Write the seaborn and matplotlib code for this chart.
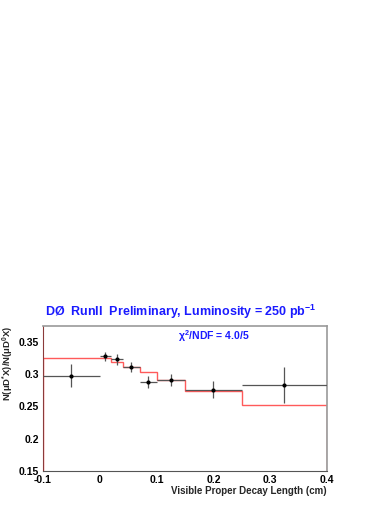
import numpy as np
import matplotlib
matplotlib.use('Agg')
import matplotlib.pyplot as plt
import seaborn as sns
from matplotlib.ticker import MultipleLocator, FuncFormatter

# bin edges (cm) and measured ratio per bin
bin_edges = [-0.1, 0.0, 0.02, 0.04, 0.07, 0.1, 0.15, 0.25, 0.4]
ratio = [0.298, 0.328, 0.323, 0.311, 0.288, 0.291, 0.276, 0.284]
ratio_err = [0.018, 0.007, 0.008, 0.008, 0.009, 0.009, 0.013, 0.028]
# fitted expectation per bin
fit = [0.326, 0.326, 0.319, 0.311, 0.303, 0.291, 0.274, 0.252]

edges = np.array(bin_edges)
centers = (edges[:-1] + edges[1:]) / 2
half_w = (edges[1:] - edges[:-1]) / 2

sns.set_style('white')
plt.rcParams['font.family'] = ['Liberation Sans', 'DejaVu Sans']
plt.rcParams['mathtext.fontset'] = 'custom'
plt.rcParams['mathtext.rm'] = 'Liberation Sans:bold'
plt.rcParams['mathtext.it'] = 'Liberation Sans:bold'
plt.rcParams['mathtext.bf'] = 'Liberation Sans:bold'

fig = plt.figure(figsize=(3.92, 5.08), dpi=100)
ax = fig.add_axes([0.1097, 0.0734, 0.7245, 0.2849])

# fit histogram
ax.stairs(fit, edges, baseline=0.15, color='#ff5a5a', lw=1.0, zorder=2)

# data points with errors
ax.errorbar(centers, ratio, xerr=half_w, yerr=ratio_err, fmt='none',
            ecolor='#555555', elinewidth=0.9, capsize=0, zorder=3)
sns.scatterplot(x=centers, y=ratio, ax=ax, color='black', s=9,
                marker='o', edgecolor='black', linewidth=0, zorder=4)

ax.set_xlim(-0.1, 0.4)
ax.set_ylim(0.15, 0.375)
ax.xaxis.set_major_locator(MultipleLocator(0.1))
ax.xaxis.set_minor_locator(MultipleLocator(0.02))
ax.yaxis.set_major_locator(MultipleLocator(0.05))
ax.yaxis.set_minor_locator(MultipleLocator(0.01))
ax.xaxis.set_major_formatter(FuncFormatter(lambda v, p: f'{v:g}'))
ax.yaxis.set_major_formatter(FuncFormatter(lambda v, p: f'{v:g}'))
ax.tick_params(axis='both', which='both', direction='in', labelsize=7.5,
               colors='#888888', labelcolor='black', pad=3)
ax.tick_params(axis='both', which='major', length=5, width=0.6)
ax.tick_params(axis='both', which='minor', length=2.5, width=0.6)
for lab in ax.get_xticklabels() + ax.get_yticklabels():
    lab.set_fontweight('bold')

for side in ['top', 'right']:
    ax.spines[side].set_color('#999999')
    ax.spines[side].set_linewidth(1.2)
ax.spines['left'].set_color('#8b3a3a')
ax.spines['bottom'].set_color('#555555')
ax.spines['left'].set_linewidth(0.8)
ax.spines['bottom'].set_linewidth(0.8)

ax.set_xlabel('Visible Proper Decay Length (cm)', fontsize=7, fontweight='bold',
              loc='right', labelpad=1)
ax.set_ylabel(r'N($\mu$D$^{*}$X)/N($\mu$D$^{0}$X)', fontsize=6.8,
              fontweight='bold', loc='top', labelpad=2)

ax.text(0.6, 0.93, r'$\chi^{2}$/NDF = 4.0/5', transform=ax.transAxes,
        color='#1a1aff', fontsize=7.5, fontweight='bold', ha='center', va='center')
fig.text(0.462, 0.3865, r'DØ  RunII  Preliminary, Luminosity = 250 pb$^{-1}$',
         color='#1a1aff', fontsize=9, fontweight='bold', ha='center', va='center')

fig.savefig('out.png', dpi=100)
